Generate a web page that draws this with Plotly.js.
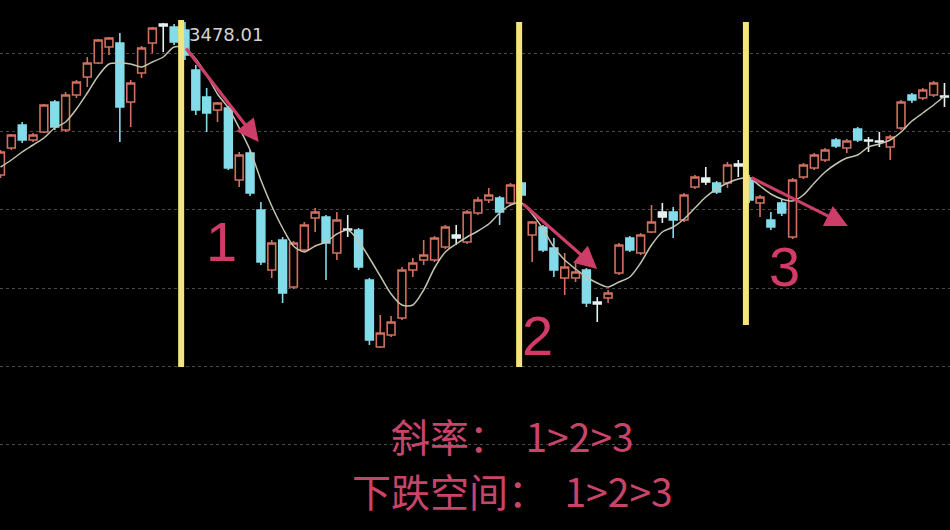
<!DOCTYPE html>
<html>
<head>
<meta charset="utf-8">
<script src="https://cdn.plot.ly/plotly-3.0.1.min.js"></script>
<style>
html,body{margin:0;padding:0;background:#000;}
#chart{width:950px;height:530px;}
</style>
</head>
<body>
<div id="chart"></div>
<script>
// ---- data ----
const dayIndex = [0,1,2,3,4,5,6,7,8,9,10,11,12,13,14,15,16,17,18,19,20,21,22,23,24,25,26,27,28,29,30,31,32,33,34,35,36,37,38,39,40,41,42,43,44,45,46,47,48,49,50,51,52,53,54,55,56,57,58,59,60,61,62,63,64,65,66,67,68,69,70,71,72,73,74,75,76,77,78,79,80,81,82,83,84,85,86,87];
const openP  = [3325,3352,3375,3360,3368,3398,3370,3405,3423,3437,3453,3457,3398,3427,3457,3476,3473,3470,3430,3403,3390,3392,3320,3347,3290,3230,3260,3213,3250,3282,3283,3247,3271,3270,3220,3153,3165,3182,3230,3240,3240,3253,3265,3258,3287,3300,3302,3297,3317,3265,3273,3252,3222,3222,3230,3198,3202,3227,3262,3247,3268,3288,3288,3280,3313,3322,3317,3317,3336,3322,3297,3280,3297,3263,3323,3332,3340,3360,3352,3371,3360,3359,3353,3372,3405,3402,3405,3404];
const highP  = [3350,3366,3378,3367,3396,3400,3408,3420,3443,3461,3463,3467,3420,3454,3473,3477,3476,3478.01,3435,3412,3398,3394,3348,3350,3298,3260,3263,3259,3278,3292,3285,3288,3285,3272,3222,3185,3184,3233,3242,3260,3264,3275,3275,3290,3303,3312,3304,3317,3320,3279,3275,3262,3247,3237,3232,3203,3210,3257,3264,3267,3295,3297,3293,3307,3325,3333,3319,3338,3340,3325,3305,3288,3301,3322,3337,3347,3352,3362,3361,3373,3363,3368,3365,3400,3407,3412,3419,3417];
const lowP   = [3322,3350,3357,3358,3367,3370,3368,3402,3413,3436,3445,3358,3373,3422,3447,3448,3455,3440,3385,3368,3378,3330,3313,3304,3235,3222,3197,3211,3248,3268,3220,3240,3263,3230,3155,3152,3163,3180,3223,3235,3238,3251,3255,3256,3285,3297,3275,3295,3300,3238,3248,3223,3205,3218,3193,3178,3197,3225,3248,3245,3267,3277,3262,3278,3311,3315,3306,3312,3323,3297,3283,3270,3284,3261,3321,3330,3338,3352,3347,3358,3348,3353,3340,3370,3397,3400,3403,3393];
const closeP = [3348,3365,3360,3365,3395,3373,3405,3418,3437,3460,3462,3393,3417,3452,3472,3474,3458,3445,3390,3387,3397,3332,3345,3307,3238,3257,3207,3257,3275,3288,3257,3280,3270,3233,3160,3167,3178,3230,3237,3245,3262,3273,3262,3288,3300,3305,3288,3315,3305,3278,3250,3230,3233,3228,3197,3196,3207,3255,3250,3265,3278,3283,3280,3305,3323,3318,3308,3335,3334,3300,3303,3273,3287,3320,3335,3345,3350,3354,3359,3360,3359,3358,3363,3398,3400,3410,3417,3403];
const maLine = [3333,3340,3348,3355,3362,3372,3378,3391,3407,3424,3436,3437,3436,3433,3438,3443,3453,3452,3441,3425,3406,3392,3372,3350,3320,3294,3272,3254,3248,3254,3258,3266,3270,3259,3242,3224,3206,3195,3195,3210,3232,3248,3256,3263,3269,3276,3287,3295,3297,3286,3271,3253,3240,3231,3223,3217,3213,3218,3223,3237,3255,3268,3273,3281,3292,3303,3311,3317,3321,3322,3314,3306,3301,3299,3305,3317,3328,3336,3342,3345,3353,3356,3360,3368,3379,3387,3395,3404];
// days drawn as white (doji-like) candles
const whiteCandleDays = [15,32,42,55,61,65,68,80,81,87];
// turning points marked by the yellow lines and arrows
const turnX    = [16.65, 47.8, 68.7];
const turnTop  = [3480, 3478, 3478];
const turnBot  = [3133, 3133, 3175];
const arrowTailX = [17.0, 48.06, 69.08];
const arrowTailY = [3453, 3297, 3323];
const arrowHeadX = [23.8, 55.0, 78.1];
const arrowHeadY = [3358, 3231, 3274];
const segLabels = ['1', '2', '3'];
const segLabelX = [20.4, 49.45, 72.3];
const segLabelY = [3259, 3165, 3234];
const gridPrices = [3056, 3134, 3212, 3291, 3369, 3447];
const noteLines = ['斜率：  1>2>3', '下跌空间：  1>2>3'];

// ---- build traces ----
function pick(arr, keep) { return arr.filter((_, i) => keep(dayIndex[i])); }
const isWhite = d => whiteCandleDays.indexOf(d) >= 0;
const notWhite = d => !isWhite(d);

const UP = '#d2705f', DOWN = '#84dbe9', WHITE = '#e6f2f2';

const mainCandles = {
  type: 'candlestick',
  x: pick(dayIndex, notWhite), open: pick(openP, notWhite), high: pick(highP, notWhite),
  low: pick(lowP, notWhite), close: pick(closeP, notWhite),
  increasing: {line: {color: UP, width: 1.6}, fillcolor: '#000000'},
  decreasing: {line: {color: DOWN, width: 1.6}, fillcolor: DOWN},
  hoverinfo: 'skip', showlegend: false
};
const whiteCandles = {
  type: 'candlestick',
  x: pick(dayIndex, isWhite), open: pick(openP, isWhite), high: pick(highP, isWhite),
  low: pick(lowP, isWhite), close: pick(closeP, isWhite),
  increasing: {line: {color: WHITE, width: 1.6}, fillcolor: WHITE},
  decreasing: {line: {color: WHITE, width: 1.6}, fillcolor: WHITE},
  hoverinfo: 'skip', showlegend: false
};
const ma = {
  type: 'scatter', mode: 'lines', x: dayIndex, y: maLine,
  line: {color: '#c4c4b0', width: 1.5, shape: 'spline', smoothing: 0.8},
  hoverinfo: 'skip', showlegend: false
};

const shapes = turnX.map((x, i) => ({
  type: 'line', xref: 'x', yref: 'y', x0: x, x1: x, y0: turnBot[i], y1: turnTop[i],
  line: {color: '#f3e57c', width: 6}, layer: 'above'
}));

const annotations = [];
arrowHeadX.forEach((x, i) => {
  annotations.push({
    xref: 'x', yref: 'y', x: x, y: arrowHeadY[i],
    axref: 'x', ayref: 'y', ax: arrowTailX[i], ay: arrowTailY[i],
    showarrow: true, arrowhead: 2, arrowsize: 1.4, arrowwidth: 3.2,
    arrowcolor: '#cc3d68', text: ''
  });
});
segLabels.forEach((t, i) => {
  annotations.push({
    xref: 'x', yref: 'y', x: segLabelX[i], y: segLabelY[i], text: t, showarrow: false,
    font: {family: 'Liberation Sans, Arial, sans-serif', size: 56, color: '#d23a68'},
    xanchor: 'center', yanchor: 'middle'
  });
});
const peakHigh = Math.max.apply(null, highP);
const peakDay = dayIndex[highP.indexOf(peakHigh)];
annotations.push({
  xref: 'x', yref: 'y', x: peakDay, y: peakHigh, text: peakHigh.toFixed(2), showarrow: false,
  xanchor: 'left', yanchor: 'middle', xshift: 2, yshift: -13,
  font: {family: 'DejaVu Sans, sans-serif', size: 18, color: '#d4d4d4'}
});
const noteY = [1 - 435/530, 1 - 490/530];
noteLines.forEach((t, i) => {
  annotations.push({
    xref: 'paper', yref: 'paper', x: 512/950, y: noteY[i], text: t, showarrow: false,
    xanchor: 'center', yanchor: 'middle',
    font: {family: 'Noto Sans CJK SC, sans-serif', size: 39, color: '#c8456a'}
  });
});

const layout = {
  width: 950, height: 530,
  margin: {l: 0, r: 0, t: 0, b: 0},
  paper_bgcolor: '#000000', plot_bgcolor: '#000000',
  showlegend: false,
  boxgap: 0.28,
  boxgroupgap: 0,
  xaxis: {range: [-0.046, 87.51], showgrid: false, zeroline: false, showticklabels: false,
          ticks: '', rangeslider: {visible: false}, fixedrange: true},
  yaxis: {range: [2970, 3500], tickmode: 'array', tickvals: gridPrices, showticklabels: false,
          ticks: '', showgrid: true, gridcolor: '#4a4a4a', griddash: 'dot', gridwidth: 1,
          zeroline: false, fixedrange: true},
  shapes: shapes,
  annotations: annotations
};

Plotly.newPlot('chart', [ma, mainCandles, whiteCandles], layout, {displayModeBar: false, staticPlot: true});
</script>
</body>
</html>
